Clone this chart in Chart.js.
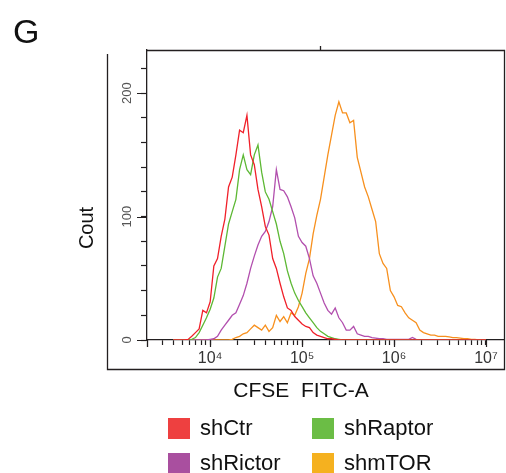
<!DOCTYPE html>
<html>
<head>
<meta charset="utf-8">
<script src="https://cdn.jsdelivr.net/npm/chart.js@4.4.1/dist/chart.umd.min.js"></script>
<style>
  body { margin: 0; background: #fff; }
  #wrap { position: relative; width: 506px; height: 473px; overflow: hidden; font-family: 'Liberation Sans', Arial, sans-serif; color: #111; }
  #c { position: absolute; left: 0; top: 0; }
  #panel { position: absolute; left: 13px; top: 14px; font-size: 34px; line-height: 1; }
  .lg-box { position: absolute; width: 22px; height: 21px; }
  .lg-txt { position: absolute; font-size: 22px; line-height: 1; white-space: nowrap; }
</style>
</head>
<body>
<div id="wrap">
  <canvas id="c" width="506" height="473"></canvas>
  <div id="panel">G</div>
  <div id="legend"></div>
</div>
<script>
// fluorescence bins, as log10 of CFSE FITC-A
const binExp = [
  3.60, 3.64, 3.68, 3.72, 3.76, 3.80, 3.84, 3.88, 3.92, 3.96,
  4.00, 4.04, 4.08, 4.12, 4.16, 4.20, 4.24, 4.28, 4.32, 4.36,
  4.40, 4.44, 4.48, 4.52, 4.56, 4.60, 4.64, 4.68, 4.72, 4.76,
  4.80, 4.84, 4.88, 4.92, 4.96, 5.00, 5.04, 5.08, 5.12, 5.16,
  5.20, 5.24, 5.28, 5.32, 5.36, 5.40, 5.44, 5.48, 5.52, 5.56,
  5.60, 5.64, 5.68, 5.72, 5.76, 5.80, 5.84, 5.88, 5.92, 5.96,
  6.00, 6.04, 6.08, 6.12, 6.16, 6.20, 6.24, 6.28, 6.32, 6.36,
  6.40, 6.44, 6.48, 6.52, 6.56, 6.60, 6.64, 6.68, 6.72, 6.76,
  6.80, 6.84, 6.88, 6.92, 6.96, 7.00
];

// counts per bin
const shCtr = [
  0, 0, 0, 0, 0.5, 3, 6, 9, 24, 22,
  31, 60, 66, 84, 98, 124, 132, 150, 170, 168,
  182, 150, 142, 122, 108, 92, 85, 66, 58, 46,
  35, 26, 24, 19, 16, 13, 11, 10, 6, 4,
  3, 2, 1, 1, 0.5, 0, 0, 0, 0, 0,
  0, 0, 0, 0, 0, 0, 0, 0, 0, 0,
  0, 0, 0, 0, 0, 0, 0, 0, 0, 0,
  0, 0, 0, 0, 0, 0, 0, 0, 0, 0,
  0, 0, 0, 0, 0, 0
];
const shRaptor = [
  0, 0, 0, 0, 0, 0.5, 2, 6, 12, 18,
  25, 34, 51, 58, 76, 94, 104, 114, 138, 150,
  138, 134, 150, 158, 136, 120, 114, 104, 94, 80,
  70, 56, 46, 38, 32, 27, 22, 18, 14, 10,
  7, 5, 3, 2, 1, 0.5, 0, 0, 0, 0,
  0, 0, 0, 0, 0, 0, 0, 0, 0, 0,
  0, 0, 0, 0, 0, 0, 0, 0, 0, 0,
  0, 0, 0, 0, 0, 0, 0, 0, 0, 0,
  0, 0, 0, 0, 0, 0
];
const shRictor = [
  0, 0, 0, 0, 0, 0, 0, 0, 0, 0,
  0.5, 1, 3, 8, 12, 16, 20, 22, 29, 36,
  46, 58, 68, 77, 84, 88, 96, 108, 138, 122,
  121, 116, 108, 99, 84, 79, 76, 66, 52, 46,
  38, 30, 24, 21, 26, 18, 14, 8, 8, 11,
  5, 4, 3, 3, 2, 1.5, 1, 1, 0.5, 0.5,
  0.5, 0.5, 0.5, 0.5, 0.5, 2, 0.5, 0, 0, 0,
  0, 0, 0, 0, 0, 0, 0, 0, 0, 0,
  0, 0, 0, 0, 0, 0
];
const shmTOR = [
  0, 0, 0, 0, 0, 0, 0, 0, 0, 0,
  0, 0, 0, 0, 0, 0, 0.5, 2, 3, 5,
  6, 9, 12, 10, 8, 12, 7, 10, 20, 15,
  19, 14, 22, 20, 27, 38, 54, 66, 86, 101,
  114, 132, 150, 166, 182, 193, 184, 184, 176, 178,
  148, 136, 124, 116, 106, 96, 70, 62, 58, 40,
  35, 28, 27, 22, 18, 16, 14, 8, 6, 5,
  4, 4, 3, 3, 3, 2.5, 2, 2, 1.5, 1,
  1, 0.5, 0.5, 0, 0, 0
];

const seriesNames = ['shCtr', 'shRaptor', 'shRictor', 'shmTOR'];
const seriesData = [shCtr, shRaptor, shRictor, shmTOR];
const lineColors = ['#f0202a', '#5db834', '#b24fae', '#f7901e'];
const swatchColors = ['#ee4040', '#6bbd45', '#a94f9f', '#f5b11f'];

const xMinExp = 3.313;
const xMaxExp = 7.196;
const xTickValues = [1e4, 1e5, 1e6, 1e7];
const xTickLabels = ['10⁴', '10⁵', '10⁶', '10⁷'];

const yMax = 235;
const yTickValues = [0, 20, 40, 60, 80, 100, 120, 140, 160, 180, 200, 220];
const yLabelValues = [0, 100, 200];

const INK = '#231f20';
Chart.defaults.font.family = "'Liberation Sans', Arial, sans-serif";

const datasets = seriesNames.map((name, s) => ({
  label: name,
  data: binExp.map((e, i) => ({ x: Math.pow(10, e), y: seriesData[s][i] })),
  borderColor: lineColors[s],
  borderWidth: 1.3,
  pointRadius: 0,
  tension: 0,
  fill: false
}));

// frame, longer major ticks, axis titles
const framePlugin = {
  id: 'frame',
  afterDraw(chart) {
    const { ctx, chartArea: a, scales: { x, y } } = chart;
    ctx.save();
    ctx.strokeStyle = INK;
    ctx.lineWidth = 1.3;
    ctx.beginPath();
    ctx.moveTo(y.left + 0.5, a.top + 4);
    ctx.lineTo(y.left + 0.5, x.bottom + 0.5);
    ctx.lineTo(a.right + 0.5, x.bottom + 0.5);
    ctx.lineTo(a.right + 0.5, a.top + 0.5);
    ctx.lineTo(a.left, a.top + 0.5);
    // small mark on top edge
    ctx.moveTo(320.5, a.top - 4);
    ctx.lineTo(320.5, a.top);
    // y axis runs through the x axis
    ctx.moveTo(a.left + 0.5, a.bottom);
    ctx.lineTo(a.left + 0.5, a.bottom + 7);
    ctx.stroke();

    ctx.lineWidth = 1.2;
    ctx.beginPath();
    yLabelValues.forEach(v => {
      const py = Math.round(y.getPixelForValue(v)) + 0.5;
      ctx.moveTo(a.left - 10, py);
      ctx.lineTo(a.left, py);
    });
    xTickValues.forEach(v => {
      const px = Math.round(x.getPixelForValue(v)) + 0.5;
      ctx.moveTo(px, a.bottom);
      ctx.lineTo(px, a.bottom + 7);
    });
    ctx.stroke();

    ctx.fillStyle = '#111';
    ctx.textAlign = 'center';
    ctx.textBaseline = 'middle';
    ctx.font = "21px 'Liberation Sans', Arial, sans-serif";
    ctx.fillText('CFSE  FITC-A', 301, 391);
    ctx.translate(87, 228);
    ctx.rotate(-Math.PI / 2);
    ctx.font = "20px 'Liberation Sans', Arial, sans-serif";
    ctx.fillText('Cout', 0, 0);
    ctx.restore();
  }
};

new Chart(document.getElementById('c'), {
  type: 'line',
  data: { datasets },
  options: {
    responsive: false,
    animation: false,
    layout: { padding: { left: 107, top: 50, right: 2, bottom: 104 } },
    plugins: { legend: { display: false }, tooltip: { enabled: false } },
    scales: {
      x: {
        type: 'logarithmic',
        min: Math.pow(10, xMinExp),
        max: Math.pow(10, xMaxExp),
        afterFit: s => { s.height = 29; },
        afterBuildTicks: s => {
          const t = [];
          for (let d = 3; d <= 7; d++) {
            for (let k = 1; k <= 9; k++) {
              const v = k * Math.pow(10, d);
              if (v >= s.min && v <= s.max) t.push({ value: v, major: k === 1 });
            }
          }
          s.ticks = t;
        },
        border: { display: true, color: INK, width: 1.3 },
        grid: { drawOnChartArea: false, tickLength: 5, tickColor: INK, tickWidth: 1.2 },
        ticks: {
          autoSkip: false, maxRotation: 0, minRotation: 0, padding: 4,
          color: '#333', font: { size: 16 },
          callback: v => {
            const i = xTickValues.indexOf(v);
            return i >= 0 ? xTickLabels[i] : '';
          }
        }
      },
      y: {
        min: 0,
        max: yMax,
        afterFit: s => { s.width = 40; },
        afterBuildTicks: s => { s.ticks = yTickValues.map(v => ({ value: v })); },
        border: { display: true, color: INK, width: 1.3 },
        grid: { drawOnChartArea: false, tickLength: 6, tickColor: INK, tickWidth: 1.2 },
        ticks: {
          autoSkip: false, minRotation: 90, maxRotation: 90, crossAlign: 'center', padding: 3,
          color: '#555', font: { size: 13 },
          callback: v => yLabelValues.includes(v) ? String(v) : ''
        }
      }
    }
  },
  plugins: [framePlugin]
});

// legend, two columns
const legend = document.getElementById('legend');
seriesNames.forEach((name, i) => {
  const col = i % 2, row = Math.floor(i / 2);
  const left = 168 + col * 144, top = 418 + row * 35;
  const box = document.createElement('div');
  box.className = 'lg-box';
  box.style.left = left + 'px';
  box.style.top = top + 'px';
  box.style.background = swatchColors[i];
  const txt = document.createElement('div');
  txt.className = 'lg-txt';
  txt.style.left = (left + 32) + 'px';
  txt.style.top = (top - 1.5) + 'px';
  txt.textContent = name;
  legend.appendChild(box);
  legend.appendChild(txt);
});
</script>
</body>
</html>
